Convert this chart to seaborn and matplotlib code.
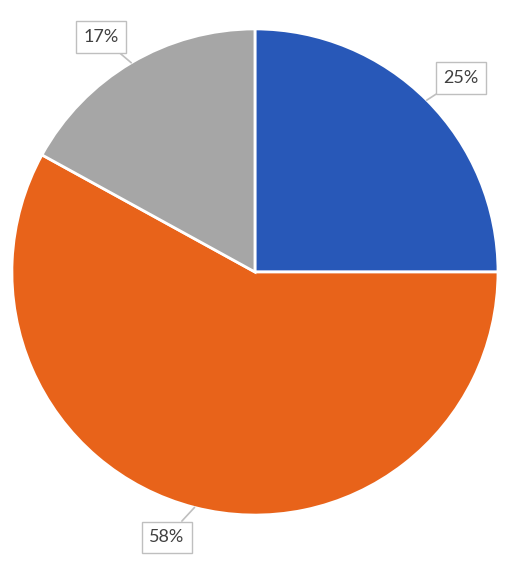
import numpy as np
import matplotlib
matplotlib.use("Agg")
import matplotlib.pyplot as plt
import seaborn as sns

# Data
categories = ["A", "B", "C"]
shares = [25, 58, 17]
labels = ["25%", "58%", "17%"]
colors = ["#2858B8", "#E8631A", "#A6A6A6"]

sns.set_theme(style="white")
plt.rcParams['font.family'] = ['Lato', 'DejaVu Sans']

fig = plt.figure(figsize=(5.2, 5.7), dpi=100)
ax = fig.add_axes([0, 0, 1, 1])

wedges, _ = ax.pie(shares, colors=colors, startangle=90, counterclock=False,
                   wedgeprops=dict(edgecolor="white", linewidth=2))

# callout positions (box centre) for each slice
box_pos = [(0.848, 0.798), (-0.362, -1.091), (-0.634, 0.967)]
for w, lab, pos in zip(wedges, labels, box_pos):
    ang = np.deg2rad((w.theta1 + w.theta2) / 2)
    tip = (np.cos(ang), np.sin(ang))
    ax.annotate(lab, xy=tip, xytext=pos, ha="center", va="center",
                fontsize=13, color="#404040",
                bbox=dict(boxstyle="square,pad=0.42", fc="white", ec="#BFBFBF", lw=1),
                arrowprops=dict(arrowstyle="-", color="#BFBFBF", lw=1.2, shrinkA=0, shrinkB=0))

ax.set_xlim(-1.049, 1.0905)
ax.set_ylim(-1.226, 1.119)
ax.set_aspect("auto")
ax.axis("off")

fig.savefig("out.png", dpi=100)
